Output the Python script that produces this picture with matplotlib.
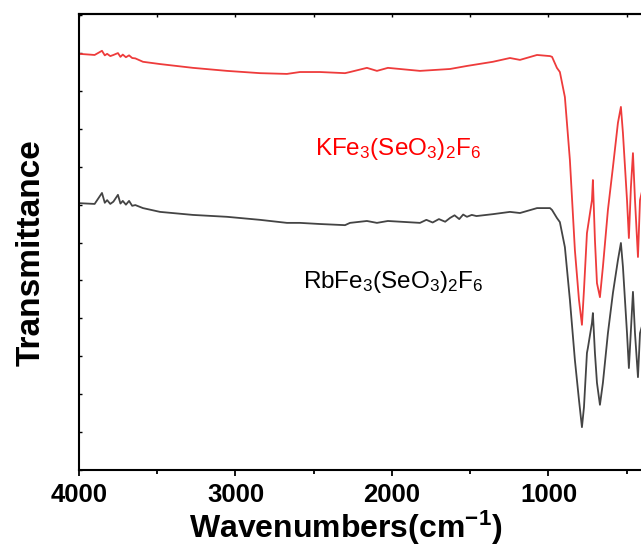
import numpy as np
import matplotlib
matplotlib.use("Agg")
import matplotlib.pyplot as plt
from matplotlib.ticker import MultipleLocator

# FTIR spectra, values (arbitrary transmittance units)
wn_k = [4000, 3900, 3853, 3835, 3820, 3800, 3780, 3751, 3735, 3720, 3700, 3680, 3660, 3640,
        3591, 3482, 3272, 3054, 2843, 2671, 2588, 2460, 2300, 2268, 2160, 2096, 2026,
        1821, 1629, 1521, 1355, 1246, 1182, 1073, 990, 977, 946, 927, 895, 863, 831,
        805, 786, 773, 754, 748, 722, 716, 703, 690, 671, 652, 620, 588, 556, 537,
        524, 498, 486, 473, 460, 447, 428, 415, 400]
t_k = [10.98, 10.95, 11.06, 10.94, 10.98, 10.92, 10.95, 11.00, 10.90, 10.96, 10.89, 10.94, 10.87, 10.86,
       10.77, 10.71, 10.61, 10.53, 10.47, 10.45, 10.50, 10.50, 10.47, 10.50, 10.61, 10.53, 10.61,
       10.53, 10.58, 10.66, 10.77, 10.87, 10.82, 10.95, 10.92, 10.90, 10.61, 10.50, 9.84, 8.18, 5.80,
       4.49, 3.83, 4.75, 6.25, 6.41, 7.12, 7.65, 6.07, 4.93, 4.56, 5.36, 6.86, 7.99, 9.16, 9.58,
       8.89, 7.12, 6.12, 7.47, 8.36, 7.12, 5.62, 7.12, 7.39]

wn_rb = [4000, 3900, 3853, 3835, 3820, 3800, 3780, 3751, 3735, 3720, 3700, 3680, 3660, 3640,
         3591, 3482, 3272, 3054, 2843, 2671, 2588, 2460, 2300, 2268, 2160, 2096, 2026,
         1821, 1780, 1740, 1700, 1660, 1629, 1600, 1570, 1545, 1521, 1490, 1460, 1355,
         1246, 1182, 1073, 990, 977, 946, 927, 895, 863, 831, 805, 786, 773, 754, 748,
         722, 716, 703, 690, 671, 652, 620, 588, 556, 537, 524, 498, 486, 473, 460, 447,
         428, 415, 400]
t_rb = [7.04, 7.02, 7.31, 7.05, 7.12, 7.02, 7.08, 7.26, 7.03, 7.10, 7.00, 7.10, 6.97, 6.99,
        6.91, 6.81, 6.73, 6.68, 6.60, 6.52, 6.52, 6.49, 6.46, 6.52, 6.57, 6.52, 6.57,
        6.52, 6.60, 6.53, 6.62, 6.55, 6.65, 6.72, 6.62, 6.74, 6.68, 6.73, 6.70, 6.75,
        6.81, 6.78, 6.91, 6.91, 6.86, 6.65, 6.54, 5.88, 4.49, 2.90, 1.85, 1.13, 1.66, 3.09, 3.22,
        3.88, 4.14, 3.09, 2.30, 1.72, 2.30, 3.61, 4.67, 5.54, 5.99, 5.36, 3.61, 2.69, 3.69, 4.70, 3.61,
        2.45, 3.61, 3.83]

label_k = r"KFe$_3$(SeO$_3$)$_2$F$_6$"
label_rb = r"RbFe$_3$(SeO$_3$)$_2$F$_6$"

plt.rcParams['font.family'] = ['Liberation Sans', 'DejaVu Sans']
plt.rcParams['mathtext.fontset'] = 'custom'
plt.rcParams['mathtext.rm'] = 'Liberation Sans'
plt.rcParams['mathtext.bf'] = 'Liberation Sans:bold'
plt.rcParams['mathtext.default'] = 'regular'

fig = plt.figure(figsize=(6.41, 5.59), dpi=100)
ax = fig.add_axes([0.1232, 0.1592, 0.8789, 0.8157])

ax.plot(wn_k, t_k, color='#ee3b3b', linewidth=1.3)
ax.plot(wn_rb, t_rb, color='#444444', linewidth=1.3)

ax.set_xlim(4000, 400)
ax.set_ylim(0, 12.03)

ax.text(2492, 8.31, label_k, color='red', fontsize=17.5, va='baseline')
ax.text(2569, 4.80, label_rb, color='black', fontsize=17.5, va='baseline')

ax.xaxis.set_major_locator(MultipleLocator(1000))
ax.xaxis.set_minor_locator(MultipleLocator(500))
ax.yaxis.set_major_locator(MultipleLocator(1))
ax.tick_params(axis='x', which='major', direction='out', length=4, width=1.3,
               labelsize=18.5, pad=5)
ax.tick_params(axis='x', which='minor', direction='out', length=3, width=1.3)
for lab in ax.get_xticklabels():
    lab.set_fontweight('bold')
ax.tick_params(axis='y', which='major', direction='in', length=2, width=1.0, labelleft=False)

# top ticks, pointing inward
top = ax.secondary_xaxis('top')
top.xaxis.set_major_locator(MultipleLocator(500))
top.tick_params(direction='in', length=2, width=1.0, labeltop=False)

for s in ax.spines.values():
    s.set_linewidth(1.5)
top.spines['top'].set_linewidth(1.5)

ax.set_xlabel(r"Wavenumbers(cm$^{\mathbf{-1}}$)", fontsize=23, fontweight='bold')
ax.set_ylabel("Transmittance", fontsize=24, fontweight='bold')
ax.xaxis.set_label_coords(0.474, -0.085)
ax.yaxis.set_label_coords(-0.058, 0.476)

fig.savefig("out.png", dpi=100)
